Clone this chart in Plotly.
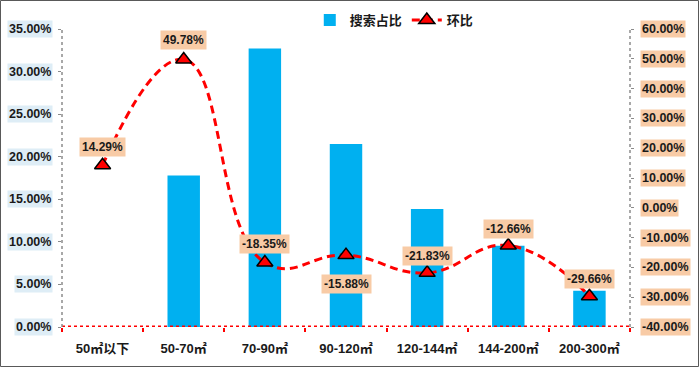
import plotly.graph_objects as go

categories = ["50㎡以下", "50-70㎡", "70-90㎡", "90-120㎡", "120-144㎡", "144-200㎡", "200-300㎡"]
search_share = [None, 17.8, 32.7, 21.5, 13.85, 9.55, 4.25]          # 搜索占比 (%)
mom_change = [14.29, 49.78, -18.35, -15.88, -21.83, -12.66, -29.66]  # 环比 (%)
left_ticks = [0, 5, 10, 15, 20, 25, 30, 35]
right_ticks = [-40, -30, -20, -10, 0, 10, 20, 30, 40, 50, 60]
label_shift = [18, 19, 18, -29, 17, 17, 17]

FONT = "Liberation Sans, Noto Sans CJK SC, sans-serif"
TXT = "#1a1a1a"
PEACH = "#F8CBA6"
LBLUE = "#DEEDF6"

fig = go.Figure()
fig.add_trace(go.Bar(
    x=categories, y=search_share, name="搜索占比",
    marker=dict(color="#00B0F0", line=dict(width=0)),
    width=0.4, yaxis="y",
))
fig.add_trace(go.Scatter(
    x=categories, y=mom_change, name="环比", yaxis="y2",
    mode="lines+markers",
    line=dict(color="#FF0000", width=3, dash="8px,5px", shape="spline", smoothing=1.3),
    marker=dict(symbol="triangle-up", size=14, color="#FF0000",
                line=dict(color="#000000", width=1.5)),
))

annotations = []
for t in left_ticks:
    annotations.append(dict(
        x=-0.016, xref="paper", y=t, yref="y", xanchor="right", yanchor="middle",
        text=f"<b>{t:.2f}%</b>", showarrow=False, bgcolor=LBLUE, borderpad=1,
        font=dict(family=FONT, size=12.5, color=TXT)))
for t in right_ticks:
    annotations.append(dict(
        x=1.017, xref="paper", y=t, yref="y2", xanchor="left", yanchor="middle",
        text=f"<b>{t:.2f}%</b>", showarrow=False, bgcolor=PEACH, borderpad=1,
        font=dict(family=FONT, size=12.5, color=TXT)))
for c, v, s in zip(categories, mom_change, label_shift):
    annotations.append(dict(
        x=c, xref="x", y=v, yref="y2", yshift=s, xanchor="center", yanchor="middle",
        text=f"<b>{v:.2f}%</b>", showarrow=False, bgcolor=PEACH, borderpad=2,
        font=dict(family=FONT, size=12, color=TXT)))

shapes = [
    dict(type="line", xref="paper", yref="y", x0=0, x1=1, y0=0, y1=0,
         line=dict(color="#FF0000", width=3, dash="dot"), layer="above"),
    dict(type="line", xref="paper", yref="paper", x0=0, x1=0, y0=0, y1=1,
         line=dict(color="#8c8c8c", width=1.5, dash="dot")),
    dict(type="line", xref="paper", yref="paper", x0=1, x1=1, y0=0, y1=1,
         line=dict(color="#8c8c8c", width=1.5, dash="dot")),
    dict(type="rect", xref="paper", yref="paper",
         x0=-61.5 / 568, x1=(698.5 - 62) / 568, y0=(327 - 366.5) / 298, y1=(327 - 0.5) / 298,
         line=dict(color="#595959", width=1), fillcolor="rgba(0,0,0,0)"),
]

fig.update_layout(
    width=700, height=367,
    margin=dict(l=62, r=70, t=29, b=40, autoexpand=False),
    paper_bgcolor="white", plot_bgcolor="white",
    font=dict(family=FONT, color=TXT),
    showlegend=True,
    legend=dict(orientation="h", x=0.585, xanchor="center",
                yref="container", y=1 - 20 / 367, yanchor="middle",
                font=dict(family=FONT, size=13, color=TXT, weight="bold"),
                itemwidth=30, bgcolor="rgba(0,0,0,0)"),
    xaxis=dict(type="category", showgrid=False, zeroline=False, showline=False,
               automargin=False,
               ticks="outside", ticklen=4, tickcolor="#FF0000", tickwidth=2,
               tickson="boundaries", ticklabelstandoff=12,
               tickfont=dict(family=FONT, size=13, color=TXT, weight="bold")),
    yaxis=dict(range=[0, 35], showgrid=False, zeroline=False, showline=False,
               automargin=False,
               showticklabels=False, tickvals=left_ticks, ticks="outside",
               ticklen=3, tickcolor="#8c8c8c"),
    yaxis2=dict(range=[-40, 60], overlaying="y", side="right", showgrid=False,
                automargin=False,
                zeroline=False, showline=False, showticklabels=False,
                tickvals=right_ticks, ticks="outside", ticklen=3, tickcolor="#8c8c8c"),
    annotations=annotations,
    shapes=shapes,
)

fig.write_html("out.html", config={"displayModeBar": False},
               post_script="document.body.style.margin='0';document.body.style.overflow='hidden';")
